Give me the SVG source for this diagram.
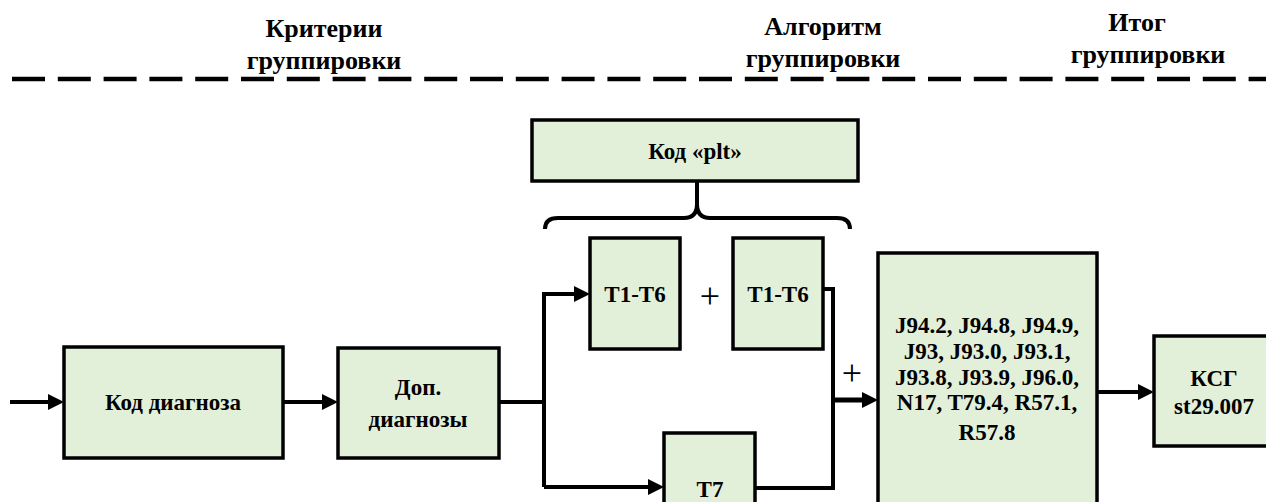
<svg xmlns="http://www.w3.org/2000/svg" width="1266" height="502" viewBox="0 0 1266 502">
<style>
.box{fill:#E2EFD9;stroke:#000;stroke-width:3.5}
text{font-family:'Liberation Serif','Times New Roman',serif;fill:#000;text-anchor:middle}
.t{font-weight:bold;font-size:23px}
.h{font-weight:bold;font-size:26px}
.plus{font-size:36px;font-weight:normal}
.c{fill:none;stroke:#000;stroke-width:4}
</style>
<defs>
<marker id="ah" markerUnits="userSpaceOnUse" markerWidth="16" markerHeight="16" refX="6" refY="8" orient="auto">
<path d="M0,0 L16,8 L0,16 z" fill="#000"/>
</marker>
</defs>
<rect width="1266" height="502" fill="#fff"/>
<g id="headers">
<text class="h" x="324" y="37">Критерии</text>
<text class="h" x="324" y="69">группировки</text>
<text class="h" x="823" y="35">Алгоритм</text>
<text class="h" x="823" y="67">группировки</text>
<text class="h" x="1137" y="31">Итог</text>
<text class="h" x="1148" y="63">группировки</text>
<line x1="12" y1="79" x2="1266" y2="79" stroke="#000" stroke-width="4.5" stroke-dasharray="33 12.8"/>
</g>
<g id="connectors">
<line class="c" x1="10" y1="402" x2="54" y2="402" marker-end="url(#ah)"/>
<line class="c" x1="283" y1="402" x2="328" y2="402" marker-end="url(#ah)"/>
<polyline class="c" points="499,402 544,402"/>
<polyline class="c" points="544,487 544,294 580,294" marker-end="url(#ah)"/>
<polyline class="c" points="544,487 654,487" marker-end="url(#ah)"/>
<polyline class="c" points="823,289 833,289 833,488 755,488"/>
<line x1="833" y1="400" x2="868" y2="400" stroke="#000" stroke-width="5" marker-end="url(#ah)"/>
<line class="c" x1="1097" y1="392" x2="1144" y2="392" marker-end="url(#ah)"/>
<path class="c" stroke-width="3.5" d="M545,229 Q545,218 558,218 L684,218 Q697,218 697,204 L697,182 M697,204 Q697,218 710,218 L837,218 Q850,218 850,229"/>
<text class="plus" x="710" y="308">+</text>
<text class="plus" x="852" y="385">+</text>
</g>
<g id="node-plt">
<rect class="box" x="532" y="120" width="326" height="61"/>
<text class="t" x="695" y="159">Код «plt»</text>
</g>
<g id="node-kod">
<rect class="box" x="64" y="347" width="219" height="111"/>
<text class="t" x="173" y="410">Код диагноза</text>
</g>
<g id="node-dop">
<rect class="box" x="338" y="348" width="161" height="110"/>
<text class="t" x="418" y="395">Доп.</text>
<text class="t" x="418" y="427">диагнозы</text>
</g>
<g id="node-t16a">
<rect class="box" x="590" y="238" width="90" height="111"/>
<text class="t" x="635" y="302">T1-T6</text>
</g>
<g id="node-t16b">
<rect class="box" x="733" y="238" width="90" height="111"/>
<text class="t" x="778" y="302">T1-T6</text>
</g>
<g id="node-t7">
<rect class="box" x="664" y="433" width="91" height="100"/>
<text class="t" x="710" y="497">T7</text>
</g>
<g id="node-codes">
<rect class="box" x="878" y="253" width="219" height="280"/>
<text class="t" x="987" y="333">J94.2, J94.8, J94.9,</text>
<text class="t" x="987" y="359">J93, J93.0, J93.1,</text>
<text class="t" x="987" y="385">J93.8, J93.9, J96.0,</text>
<text class="t" x="987" y="410">N17, T79.4, R57.1,</text>
<text class="t" x="987" y="440">R57.8</text>
</g>
<g id="node-ksg">
<rect class="box" x="1154" y="336" width="126" height="110"/>
<text class="t" x="1214" y="386">КСГ</text>
<text class="t" x="1214" y="414">st29.007</text>
</g>
</svg>
